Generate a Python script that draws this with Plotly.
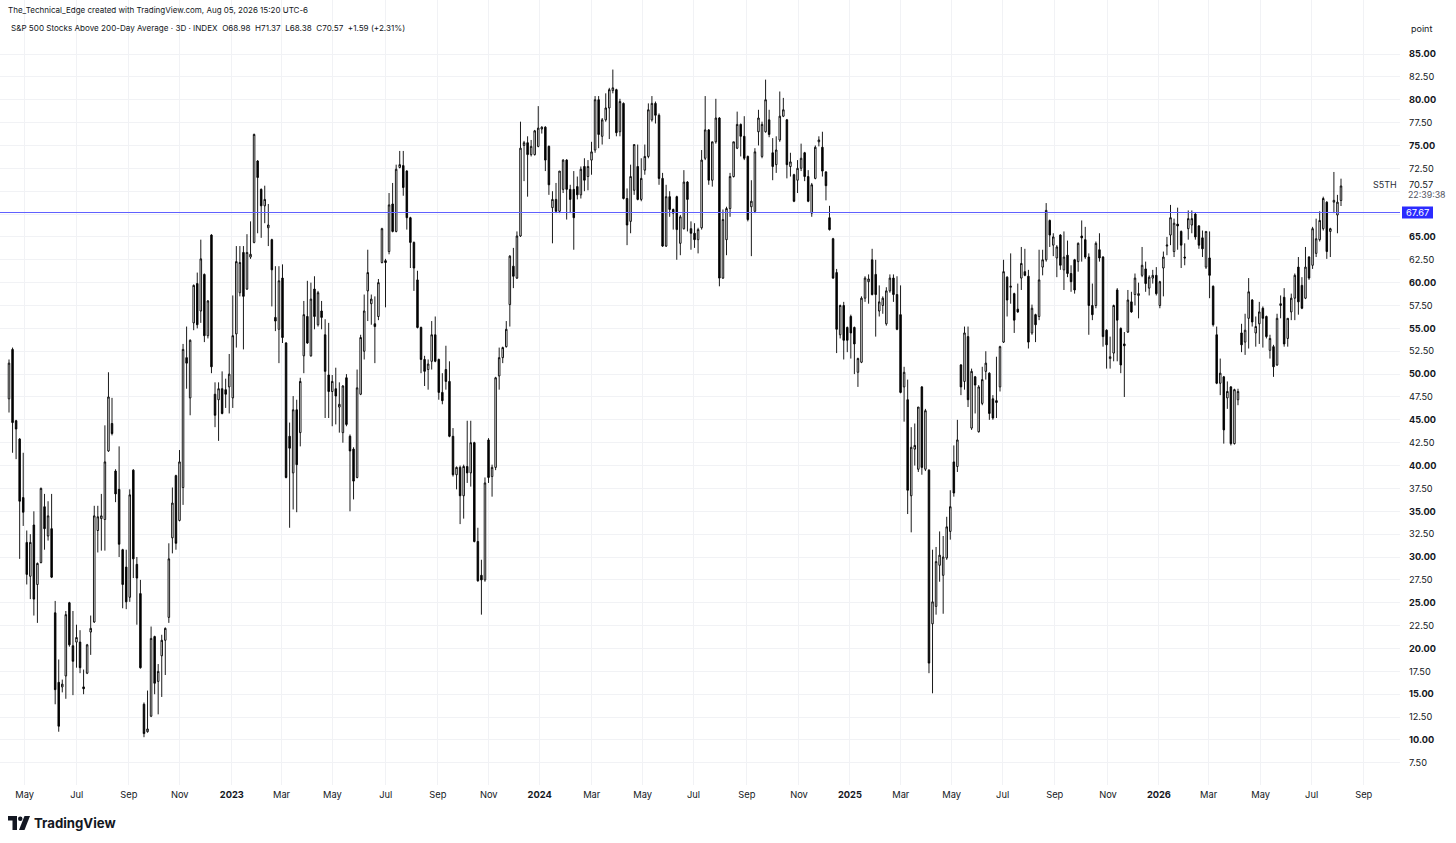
import numpy as np
import pandas as pd
import plotly.graph_objects as go

# ---- data (3D bars, S&P 500 stocks above 200-day average) ----
opens = [
    47.3, 52.7, 44.9, 42.9, 36.5, 31.6, 27.9, 33.5, 27.0, 29.4,
    35.5, 32.3, 33.1, 23.9, 16.3, 15.8, 17.0, 25.0, 20.3, 20.7,
    20.7, 15.8, 17.3, 21.8, 22.9, 32.9, 34.2, 34.1, 41.6, 44.6,
    39.4, 37.4, 30.8, 28.9, 25.6, 39.5, 29.2, 26.0, 13.9, 10.9,
    12.6, 21.3, 16.4, 19.2, 20.9, 23.4, 32.1, 38.9, 34.0, 37.6,
    51.8, 47.4, 55.6, 59.9, 56.9, 60.9, 54.2, 65.2, 47.8, 47.2,
    48.4, 48.3, 48.6, 47.4, 54.4, 58.9, 63.3, 59.3, 62.8, 64.4,
    73.3, 70.2, 68.4, 66.0, 64.7, 56.2, 54.9, 60.5, 53.4, 43.2,
    39.2, 46.1, 43.6, 52.0, 56.3, 52.0, 59.3, 55.4, 56.9, 54.3,
    49.9, 48.1, 48.4, 46.4, 43.6, 49.6, 43.2, 41.8, 38.7, 47.8,
    52.5, 59.1, 57.7, 55.5, 56.3, 62.2, 62.4, 63.4, 68.6, 65.6,
    72.6, 72.8, 72.2, 67.1, 64.4, 60.3, 55.1, 51.6, 50.5, 51.4,
    54.3, 51.6, 48.0, 50.5, 49.2, 43.2, 39.0, 39.8, 36.7, 39.9,
    39.2, 42.5, 31.7, 28.0, 27.5, 42.8, 38.8, 39.8, 49.8, 51.8,
    53.0, 57.6, 61.8, 60.5, 65.1, 75.0, 75.3, 74.0, 74.0, 74.9,
    76.8, 77.0, 74.9, 68.2, 69.1, 67.8, 70.2, 73.4, 70.2, 70.2,
    70.5, 69.6, 72.7, 71.6, 73.4, 74.5, 80.0, 76.0, 77.8, 79.1,
    81.0, 81.1, 76.5, 79.6, 69.2, 66.7, 70.1, 72.7, 69.1, 72.3,
    73.8, 77.8, 79.6, 78.3, 71.4, 64.0, 69.4, 68.0, 69.4, 64.3,
    65.9, 71.0, 65.9, 65.4, 64.7, 66.0, 73.6, 76.7, 71.2, 75.4,
    78.0, 60.5, 64.7, 68.1, 71.6, 74.7, 77.3, 76.0, 73.8, 68.3,
    67.8, 76.5, 73.8, 76.5, 77.8, 74.2, 72.9, 75.6, 78.2, 77.8,
    72.7, 71.8, 71.2, 72.5, 74.2, 71.6, 67.6, 71.4, 75.4, 74.8,
    72.1, 67.1, 64.8, 61.1, 54.3, 57.5, 55.1, 56.3, 55.1, 50.2,
    51.3, 58.3, 60.1, 62.5, 60.9, 56.9, 57.5, 55.5, 59.1, 60.5,
    58.7, 56.5, 48.6, 47.2, 36.7, 41.8, 39.6, 48.6, 39.6, 39.5,
    22.7, 24.6, 29.1, 28.0, 29.9, 32.8, 40.4, 39.9, 51.0, 49.2,
    54.1, 44.1, 49.7, 43.7, 46.8, 50.3, 50.1, 47.3, 47.1, 48.6,
    53.5, 60.6, 59.5, 58.8, 57.1, 60.5, 61.2, 60.7, 54.5, 56.5,
    56.3, 61.7, 62.5, 66.8, 64.1, 62.7, 65.2, 61.4, 63.0, 61.0,
    62.5, 62.3, 65.1, 64.7, 62.8, 57.5, 57.5, 63.6, 62.8, 54.8,
    51.7, 52.3, 59.2, 55.0, 53.3, 54.6, 57.9, 58.7, 58.6, 60.8,
    61.5, 59.4, 60.5, 60.8, 57.5, 61.6, 64.0, 65.2, 63.4, 66.4,
    65.6, 62.8, 65.9, 66.3, 67.5, 66.2, 64.9, 61.7, 62.7, 59.6,
    54.3, 49.0, 49.7, 47.4, 48.6, 42.4, 47.2, 54.5, 53.5, 56.1,
    58.1, 54.5, 55.5, 57.2, 56.3, 52.6, 53.0, 51.0, 57.5, 58.4,
    53.9, 56.8, 58.3, 61.7, 59.7, 58.3, 62.8, 61.9, 63.2, 64.7,
    65.9, 68.8, 65.6, 68.8, 67.4, 68.98,
]
highs = [
    51.6, 52.9, 45.0, 43.0, 41.4, 32.9, 32.5, 35.0, 29.4, 37.6,
    36.9, 36.1, 36.9, 25.2, 18.8, 16.6, 24.1, 25.1, 24.1, 22.6,
    22.0, 17.7, 20.5, 23.6, 35.6, 35.6, 36.9, 44.4, 50.2, 47.4,
    39.6, 42.1, 30.9, 30.8, 37.4, 39.6, 30.0, 27.5, 14.1, 15.4,
    22.4, 21.4, 18.3, 21.5, 22.3, 31.5, 37.6, 39.0, 41.7, 53.3,
    55.2, 53.8, 59.8, 61.1, 64.7, 61.0, 58.1, 65.3, 49.1, 49.1,
    50.3, 49.5, 52.2, 58.6, 64.0, 64.0, 64.0, 65.3, 66.7, 76.3,
    73.4, 70.3, 70.6, 68.6, 64.8, 61.8, 61.8, 62.0, 53.5, 44.7,
    47.6, 47.2, 49.6, 58.0, 60.2, 60.0, 60.7, 59.1, 58.0, 56.0,
    55.6, 49.9, 50.7, 49.1, 48.8, 50.0, 43.4, 42.0, 50.5, 54.3,
    58.7, 63.6, 58.7, 58.5, 60.4, 66.0, 62.6, 69.8, 70.9, 72.9,
    74.4, 74.4, 72.3, 67.2, 64.5, 61.3, 55.2, 52.0, 51.6, 55.8,
    56.3, 51.7, 50.1, 53.1, 51.4, 44.1, 39.9, 40.0, 40.1, 44.9,
    44.9, 42.6, 33.2, 29.7, 38.7, 43.0, 40.1, 49.7, 52.9, 53.0,
    55.8, 63.0, 63.8, 65.6, 77.6, 75.5, 76.0, 75.6, 76.7, 79.3,
    77.1, 77.1, 75.0, 70.0, 70.9, 72.2, 73.5, 73.5, 70.7, 72.2,
    71.6, 72.7, 73.6, 73.4, 75.4, 80.4, 80.4, 78.0, 80.7, 81.3,
    83.3, 81.2, 80.1, 79.7, 70.3, 72.9, 75.1, 75.1, 73.6, 75.1,
    79.6, 80.4, 79.8, 78.5, 72.0, 70.7, 70.0, 68.1, 69.5, 67.4,
    72.3, 71.1, 66.7, 66.5, 66.0, 74.5, 80.4, 76.8, 75.4, 80.1,
    78.1, 68.0, 68.3, 72.0, 75.4, 78.7, 77.4, 78.2, 73.9, 71.2,
    74.7, 78.9, 77.6, 82.2, 78.9, 75.8, 76.0, 80.9, 80.2, 77.9,
    74.2, 71.9, 73.4, 75.2, 74.3, 72.3, 70.9, 75.0, 76.0, 76.5,
    72.2, 68.4, 64.9, 61.5, 57.6, 57.9, 55.2, 56.5, 55.2, 51.8,
    58.5, 60.7, 60.9, 63.7, 62.5, 59.7, 58.5, 59.5, 60.9, 60.9,
    60.7, 59.7, 50.8, 49.4, 44.2, 44.6, 46.4, 48.7, 46.2, 39.6,
    30.8, 31.1, 32.8, 32.3, 34.4, 37.3, 42.2, 45.0, 51.1, 55.2,
    55.2, 50.6, 49.8, 48.8, 50.8, 52.5, 50.2, 47.7, 51.9, 53.1,
    62.5, 60.7, 63.2, 58.9, 59.9, 63.9, 63.7, 61.4, 57.6, 56.6,
    63.6, 63.6, 68.7, 66.9, 65.4, 64.1, 65.3, 65.6, 64.6, 61.9,
    62.6, 64.4, 66.8, 66.1, 63.2, 59.9, 64.5, 65.4, 62.9, 54.9,
    54.1, 57.6, 59.4, 55.1, 54.6, 59.2, 59.0, 61.0, 60.0, 63.9,
    62.3, 60.8, 61.4, 61.7, 60.2, 63.4, 65.0, 68.5, 67.0, 68.2,
    65.7, 64.3, 67.9, 67.9, 67.6, 66.3, 65.7, 65.6, 65.6, 59.7,
    55.2, 51.7, 49.8, 49.2, 48.7, 48.4, 48.4, 55.5, 56.6, 60.5,
    58.2, 56.3, 57.9, 57.4, 56.4, 54.3, 53.2, 56.6, 58.6, 59.4,
    56.1, 58.8, 61.0, 62.8, 60.6, 63.9, 62.9, 66.1, 67.0, 67.8,
    69.4, 68.9, 66.0, 72.1, 69.6, 71.37,
]
lows = [
    45.8, 41.4, 40.7, 29.8, 33.4, 27.0, 25.4, 23.6, 22.8, 29.3,
    30.8, 31.8, 27.7, 13.9, 10.9, 15.2, 14.5, 20.2, 14.9, 17.9,
    17.3, 15.0, 17.2, 19.3, 22.8, 30.5, 30.7, 30.7, 41.5, 43.3,
    36.0, 30.0, 24.4, 24.3, 25.1, 27.7, 22.6, 17.8, 10.3, 10.8,
    12.5, 15.0, 12.8, 14.7, 17.1, 22.8, 30.4, 30.8, 33.9, 35.7,
    48.4, 45.5, 54.8, 55.0, 55.6, 53.5, 53.9, 50.1, 44.2, 42.7,
    45.6, 46.3, 45.7, 46.3, 52.9, 58.5, 52.7, 59.2, 62.6, 64.3,
    65.4, 64.9, 66.5, 64.0, 57.4, 54.7, 51.2, 53.4, 38.6, 33.2,
    35.2, 34.9, 42.1, 50.1, 53.3, 51.9, 54.9, 55.2, 54.9, 45.2,
    45.2, 44.3, 44.5, 43.6, 42.5, 44.3, 35.0, 36.3, 38.6, 47.7,
    51.6, 55.8, 55.4, 51.2, 55.9, 62.1, 57.3, 63.1, 65.5, 65.5,
    72.5, 69.5, 65.8, 61.6, 59.1, 55.0, 50.1, 48.7, 48.3, 50.5,
    51.3, 47.2, 46.7, 48.3, 43.1, 38.8, 37.4, 33.6, 34.2, 38.1,
    37.7, 31.6, 27.3, 23.7, 27.3, 38.1, 36.6, 39.5, 48.3, 51.2,
    52.9, 55.2, 59.4, 60.4, 65.0, 71.1, 69.4, 73.8, 73.9, 74.8,
    76.3, 72.2, 69.6, 64.3, 67.6, 67.6, 69.8, 66.9, 67.6, 63.6,
    69.1, 69.2, 70.0, 70.1, 71.8, 74.2, 74.7, 75.1, 77.6, 75.7,
    80.7, 76.0, 76.0, 69.1, 64.1, 65.4, 69.6, 69.0, 68.9, 71.8,
    73.6, 77.6, 77.4, 70.7, 63.9, 63.9, 67.2, 65.8, 62.5, 63.0,
    65.8, 65.6, 63.6, 63.8, 63.2, 65.8, 73.4, 70.7, 70.5, 75.2,
    59.6, 60.4, 63.0, 67.2, 71.5, 74.6, 73.8, 73.4, 66.7, 62.9,
    67.6, 75.0, 73.6, 76.4, 75.9, 71.2, 72.0, 75.4, 78.1, 71.4,
    71.6, 68.8, 69.8, 72.2, 71.1, 68.8, 67.2, 71.3, 74.9, 71.6,
    69.0, 65.7, 60.4, 52.3, 53.9, 51.6, 52.4, 51.7, 50.0, 48.6,
    51.2, 57.9, 57.7, 58.6, 54.1, 56.3, 56.6, 55.3, 58.9, 57.9,
    54.8, 47.9, 44.8, 34.7, 32.7, 40.0, 39.3, 39.0, 39.4, 17.3,
    15.1, 23.7, 27.3, 23.8, 29.7, 31.9, 36.6, 39.3, 47.7, 48.3,
    46.4, 43.9, 45.7, 43.6, 46.6, 49.4, 45.0, 45.0, 45.2, 48.1,
    53.4, 56.3, 57.7, 54.5, 56.7, 59.2, 60.7, 52.8, 54.3, 53.5,
    55.9, 60.8, 62.3, 63.9, 62.9, 60.6, 61.4, 59.2, 60.6, 59.0,
    58.8, 61.2, 62.3, 62.6, 54.3, 55.9, 57.2, 62.3, 53.0, 50.6,
    50.6, 51.4, 51.4, 50.1, 47.5, 54.5, 56.7, 57.5, 56.1, 60.6,
    59.0, 58.6, 59.9, 58.6, 57.2, 58.5, 63.0, 64.1, 62.8, 63.6,
    61.6, 61.9, 64.7, 65.4, 64.7, 63.7, 62.8, 61.5, 58.3, 55.2,
    48.9, 47.7, 42.4, 46.2, 42.2, 42.3, 46.6, 52.4, 52.1, 52.8,
    55.2, 53.0, 53.3, 52.9, 53.9, 51.7, 49.7, 50.9, 56.1, 53.0,
    53.0, 55.9, 55.9, 56.5, 57.1, 58.2, 60.3, 61.5, 62.8, 64.5,
    65.7, 62.6, 62.8, 67.6, 65.4, 68.38,
]
closes = [
    51.2, 44.7, 44.0, 36.1, 34.9, 28.1, 31.6, 25.4, 29.3, 37.5,
    33.1, 34.5, 27.8, 15.5, 11.5, 16.1, 23.7, 20.4, 18.6, 21.2,
    17.9, 15.6, 20.4, 22.2, 34.5, 34.4, 34.5, 40.4, 47.5, 43.5,
    36.9, 31.4, 27.0, 25.1, 36.8, 29.8, 27.7, 17.9, 10.7, 11.2,
    21.1, 16.2, 17.5, 20.9, 22.2, 29.8, 35.9, 31.5, 40.4, 52.7,
    51.2, 53.7, 59.7, 55.4, 62.6, 54.2, 58.0, 50.8, 45.5, 48.4,
    45.7, 47.8, 50.0, 54.2, 62.3, 62.2, 58.5, 63.3, 63.1, 76.2,
    71.5, 68.4, 69.1, 66.3, 61.4, 55.8, 60.2, 54.0, 38.7, 41.9,
    46.1, 40.1, 49.2, 56.5, 53.4, 58.2, 56.3, 58.9, 56.2, 50.3,
    48.1, 49.2, 47.6, 46.7, 48.7, 44.5, 41.6, 38.3, 48.5, 54.0,
    56.9, 61.1, 58.2, 55.2, 60.0, 65.9, 62.2, 68.5, 65.6, 72.4,
    72.9, 70.4, 67.1, 64.4, 61.6, 55.1, 51.6, 50.3, 51.1, 54.3,
    51.4, 48.0, 47.1, 49.2, 43.2, 39.0, 39.8, 36.7, 39.9, 39.2,
    42.5, 31.7, 27.4, 27.5, 38.1, 38.7, 39.8, 49.6, 51.8, 52.9,
    54.9, 62.9, 60.7, 65.1, 74.7, 75.3, 74.0, 74.9, 76.6, 76.9,
    77.0, 73.4, 70.7, 69.1, 67.8, 72.2, 73.4, 70.2, 69.1, 67.1,
    69.6, 72.4, 71.2, 72.7, 74.3, 80.0, 76.2, 77.8, 79.1, 81.1,
    81.3, 76.4, 79.8, 69.2, 66.3, 71.6, 75.1, 69.1, 71.4, 73.8,
    78.9, 79.6, 78.3, 71.4, 64.0, 69.4, 68.0, 67.6, 65.8, 67.2,
    71.0, 69.1, 65.4, 64.7, 65.8, 73.4, 76.7, 71.2, 75.4, 78.0,
    60.5, 66.9, 68.1, 71.6, 75.4, 77.3, 76.0, 73.6, 66.9, 68.9,
    74.3, 78.0, 77.3, 80.0, 76.2, 72.7, 74.5, 78.2, 78.9, 72.9,
    73.2, 68.9, 72.5, 73.6, 71.6, 68.9, 70.7, 74.8, 75.6, 72.2,
    70.6, 65.8, 60.5, 54.9, 57.5, 53.7, 53.7, 54.5, 53.3, 51.7,
    58.3, 60.5, 60.4, 58.7, 58.7, 57.9, 58.3, 59.1, 60.5, 58.7,
    54.9, 48.0, 50.2, 37.3, 42.0, 42.2, 46.4, 39.8, 46.0, 18.4,
    25.1, 29.5, 30.2, 30.0, 33.3, 35.5, 37.0, 42.8, 48.6, 54.5,
    47.2, 50.3, 48.8, 48.6, 49.4, 51.2, 45.7, 45.2, 46.9, 53.0,
    61.2, 58.1, 59.6, 55.9, 56.8, 62.1, 60.8, 53.5, 57.2, 55.4,
    60.3, 62.5, 67.9, 65.2, 65.0, 63.9, 61.9, 62.8, 61.0, 60.1,
    59.2, 64.3, 64.9, 62.8, 57.5, 56.5, 64.3, 62.7, 54.1, 53.2,
    51.9, 57.5, 55.9, 51.0, 53.1, 58.1, 56.8, 60.5, 58.8, 61.9,
    59.9, 60.6, 60.8, 58.8, 60.1, 62.8, 64.1, 67.1, 66.5, 66.2,
    64.1, 62.7, 67.0, 67.0, 65.0, 64.1, 63.7, 65.6, 60.8, 55.4,
    49.0, 50.1, 43.9, 48.1, 42.4, 48.3, 48.1, 53.2, 54.8, 59.0,
    55.7, 55.2, 56.8, 56.1, 54.1, 53.9, 50.8, 56.1, 57.7, 53.3,
    56.1, 58.3, 60.8, 57.9, 57.2, 61.7, 60.5, 65.9, 64.8, 66.8,
    69.2, 63.4, 65.9, 69.0, 68.8, 70.57,
]
level_value = 67.67
last_close = 70.57
y_tick_values = [7.5 + 2.5 * k for k in range(32)]
month_labels_start = "2022-05-01"
month_labels_end = "2026-09-01"

# ---- bar positions (3 business days per bar, ending Aug 05 2026) ----
N = len(closes)
bdays = pd.bdate_range(end="2026-08-05", periods=N * 3)
bar_dates = bdays[::3]
xs = list(range(N))
start_day = bdays[0].date()

months = pd.date_range(month_labels_start, month_labels_end, freq="2MS")
xt_vals = [np.busday_count(start_day, m.date()) / 3.0 - 0.6 for m in months]
xt_text = [f"<b>{m.year}</b>" if m.month == 1 else m.strftime("%b") for m in months]

yt_text = []
for v in y_tick_values:
    if abs(v - 67.5) < 1e-6 or abs(v - 70.0) < 1e-6:
        yt_text.append("")
    elif abs(v % 5) < 1e-6:
        yt_text.append(f"<b>{v:.2f}</b>")
    else:
        yt_text.append(f"{v:.2f}")

# ---- geometry helpers (pixel -> paper) ----
W, H = 1456, 843
PL, PR, PT, PB = 0, 1400, 0, 785
PW, PH = PR - PL, PB - PT
SP = 3.552          # px per bar
X0 = 9              # px of first bar
def px(x): return (x - PL) / PW
def py(y): return 1 - (y - PT) / PH

x_range = [(PL - X0) / SP, (PR - X0) / SP]
ppu = 9.146
y_range = [85 - (PB - 54) / ppu, 85 + (54 - PT) / ppu]

TXT = "#131722"
FONT = "Inter, Roboto, Arial, sans-serif"

fig = go.Figure()
fig.add_trace(go.Candlestick(
    x=xs, open=opens, high=highs, low=lows, close=closes,
    increasing=dict(fillcolor="#ffffff", line=dict(color="#000000", width=0.9)),
    decreasing=dict(fillcolor="#000000", line=dict(color="#000000", width=0.9)),
    whiskerwidth=0, hoverinfo="skip", showlegend=False,
))

shapes = [
    dict(type="line", xref="paper", yref="y", x0=0, x1=1, y0=level_value, y1=level_value,
         line=dict(color="#6060ff", width=1.2)),
    dict(type="rect", xref="paper", yref="paper", x0=px(1402), x1=px(1433),
         y0=py(218.5), y1=py(206.5), fillcolor="#2b2bff", line=dict(width=0)),
    # TradingView logo mark
    dict(type="path", xref="paper", yref="paper", fillcolor=TXT, line=dict(width=0),
         path=f"M {px(8)} {py(816)} L {px(17)} {py(816)} L {px(17)} {py(830)} L {px(12.5)} {py(830)} "
              f"L {px(12.5)} {py(820.5)} L {px(8)} {py(820.5)} Z"),
    dict(type="circle", xref="paper", yref="paper", fillcolor=TXT, line=dict(width=0),
         x0=px(18), x1=px(22.5), y0=py(821), y1=py(816.5)),
    dict(type="path", xref="paper", yref="paper", fillcolor=TXT, line=dict(width=0),
         path=f"M {px(24.5)} {py(816)} L {px(30)} {py(816)} L {px(24.5)} {py(830)} L {px(19)} {py(830)} Z"),
]

NB = "\u00a0"
header2 = ("S&P 500 Stocks Above 200-Day Average · 3D · INDEX" + NB * 2 + "O68.98" + NB * 2 +
           "H71.37" + NB * 2 + "L68.38" + NB * 2 + "C70.57" + NB * 2 + "+1.59 (+2.31%)")

def ann(x, y, text, size=9, color=TXT, xanchor="left", bold=False):
    return dict(xref="paper", yref="paper", x=px(x), y=py(y), text=(f"<b>{text}</b>" if bold else text),
                showarrow=False, xanchor=xanchor, yanchor="middle",
                font=dict(family=FONT, size=size, color=color))

annotations = [
    ann(6, 10, "The_Technical_Edge created with TradingView.com, Aug 05, 2026 15:20 UTC-6", 8.0),
    ann(9, 28, header2, 8.1),
    ann(1409, 29, "point", 9),
    ann(1399, 185, "S5TH", 9, "#2a2e39", xanchor="right"),
    ann(1407, 185, f"{last_close:.2f}", 9.3),
    ann(1406, 194.5, "22:39:38", 8.8, "#50535e"),
    ann(1417.5, 212.5, f"{level_value:.2f}", 9.3, "#ffffff", xanchor="center"),
    ann(32, 823, "TradingView", 13.2, TXT, bold=True),
]

fig.update_layout(
    width=W, height=H,
    margin=dict(l=PL, r=W - PR, t=PT, b=H - PB, autoexpand=False),
    paper_bgcolor="#ffffff", plot_bgcolor="#ffffff",
    font=dict(family=FONT, size=10, color=TXT),
    boxgap=0.38,
    hovermode=False,
    shapes=shapes, annotations=annotations,
    xaxis=dict(range=x_range, tickmode="array", tickvals=xt_vals, ticktext=xt_text,
               showgrid=True, gridcolor="#f1f2f5", gridwidth=1, zeroline=False,
               showline=False, ticks="", ticklabelstandoff=3,
               tickfont=dict(family=FONT, size=9.3, color=TXT),
               rangeslider=dict(visible=False), fixedrange=True),
    yaxis=dict(range=y_range, side="right", tickmode="array", tickvals=y_tick_values, ticktext=yt_text,
               showgrid=True, gridcolor="#f1f2f5", gridwidth=1, zeroline=False,
               showline=False, ticks="", ticklabelstandoff=8,
               tickfont=dict(family=FONT, size=9.2, color=TXT), fixedrange=True),
)

fig.write_html("out.html",
               config={"displayModeBar": False, "staticPlot": True},
               post_script="document.body.style.margin='0';document.body.style.padding='0';"
                           "document.documentElement.style.overflow='hidden';")
